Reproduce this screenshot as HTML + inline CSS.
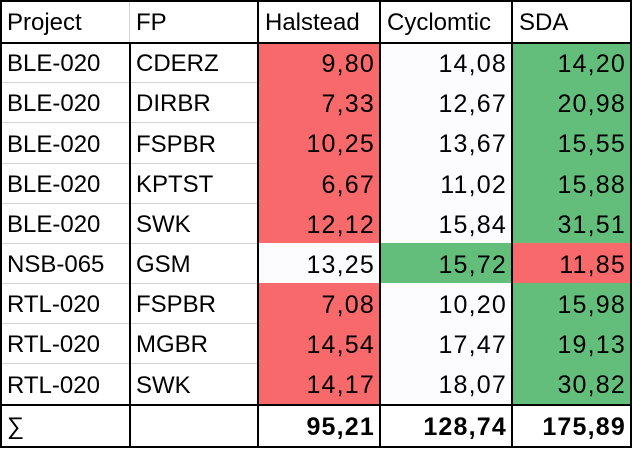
<!DOCTYPE html>
<html><head><meta charset="utf-8"><style>
html,body{margin:0;padding:0;background:#fff;}
#t{position:relative;width:632px;height:449px;font-family:"Liberation Sans",sans-serif;font-size:24px;color:#000;overflow:hidden;}
.c{position:absolute;box-sizing:border-box;white-space:nowrap;padding-top:2px;}
.l{padding-left:7px;}
.r{text-align:right;padding-right:5px;font-size:25px;letter-spacing:1.2px;}
.ln{position:absolute;}
</style></head><body>
<div id="t"></div>
<script>
const headers=["Project","FP","Halstead","Cyclomtic","SDA"];
const projects=["BLE-020","BLE-020","BLE-020","BLE-020","BLE-020","NSB-065","RTL-020","RTL-020","RTL-020"];
const fps=["CDERZ","DIRBR","FSPBR","KPTST","SWK","GSM","FSPBR","MGBR","SWK"];
const halstead=["9,80","7,33","10,25","6,67","12,12","13,25","7,08","14,54","14,17"];
const cyclo=["14,08","12,67","13,67","11,02","15,84","15,72","10,20","17,47","18,07"];
const sda=["14,20","20,98","15,55","15,88","31,51","11,85","15,98","19,13","30,82"];
const sums=["95,21","128,74","175,89"];
const colors=[["r","w","g"],["r","w","g"],["r","w","g"],["r","w","g"],["r","w","g"],["w","g","r"],["r","w","g"],["r","w","g"],["r","w","g"]];
const pal={r:"#F8696B",g:"#63BE7B",w:"#FCFCFF"};
const xs=[0,129,258,380,512,631];
const ys=[0,42,82,122,163,203,243,283,323,363,404,446];
const T=document.getElementById('t');
function cell(txt,ci,ri,cls,bg,name,bold){
  const d=document.createElement('div');
  d.className='c '+cls;
  d.style.left=xs[ci]+'px';d.style.width=(xs[ci+1]-xs[ci])+'px';
  d.style.top=ys[ri]+'px';d.style.height=(ys[ri+1]-ys[ri])+'px';
  d.style.lineHeight=(ys[ri+1]-ys[ri])+'px';
  if(bg)d.style.background=bg;
  if(bold)d.style.fontWeight='bold';
  d.textContent=txt;
  
  
  T.appendChild(d);
}
function line(x,y,w,h,c,name){
  const d=document.createElement('div');
  d.className='ln';
  d.style.left=x+'px';d.style.top=y+'px';d.style.width=w+'px';d.style.height=h+'px';d.style.background=c;
  
  
  T.appendChild(d);
}
headers.forEach((h,i)=>cell(h,i,0,'l',null,'header-'+h.toLowerCase()));
projects.forEach((p,i)=>{
  const ri=i+1;
  cell(p,0,ri,'l',null,'project-cell');
  cell(fps[i],1,ri,'l',null,'fp-cell');
  cell(halstead[i],2,ri,'r',pal[colors[i][0]],'halstead-cell');
  cell(cyclo[i],3,ri,'r',pal[colors[i][1]],'cyclomtic-cell');
  cell(sda[i],4,ri,'r',pal[colors[i][2]],'sda-cell');
});
cell('∑',0,10,'l',null,'sum-symbol');
sums.forEach((s,i)=>cell(s,i+2,10,'r',null,'sum-cell',true));
for(let r=2;r<=9;r++)line(0,ys[r],258,1,'#d4d4d4','row-gridline');
line(129,0,1,42,'#d4d4d4','header-gridline');
line(0,0,632,2,'#000','border-top');
line(0,ys[1],632,2,'#000','header-border');
line(0,ys[10],632,2,'#000','sum-border');
line(0,ys[11],632,2,'#000','border-bottom');
line(0,0,2,448,'#000','border-left');
line(630,0,2,448,'#000','border-right');
line(129,ys[1],2,ys[11]-ys[1],'#000','fp-border');
[2,3,4].forEach(c=>line(xs[c]-1,0,2,448,'#000','col-border'));
</script>
</body></html>
